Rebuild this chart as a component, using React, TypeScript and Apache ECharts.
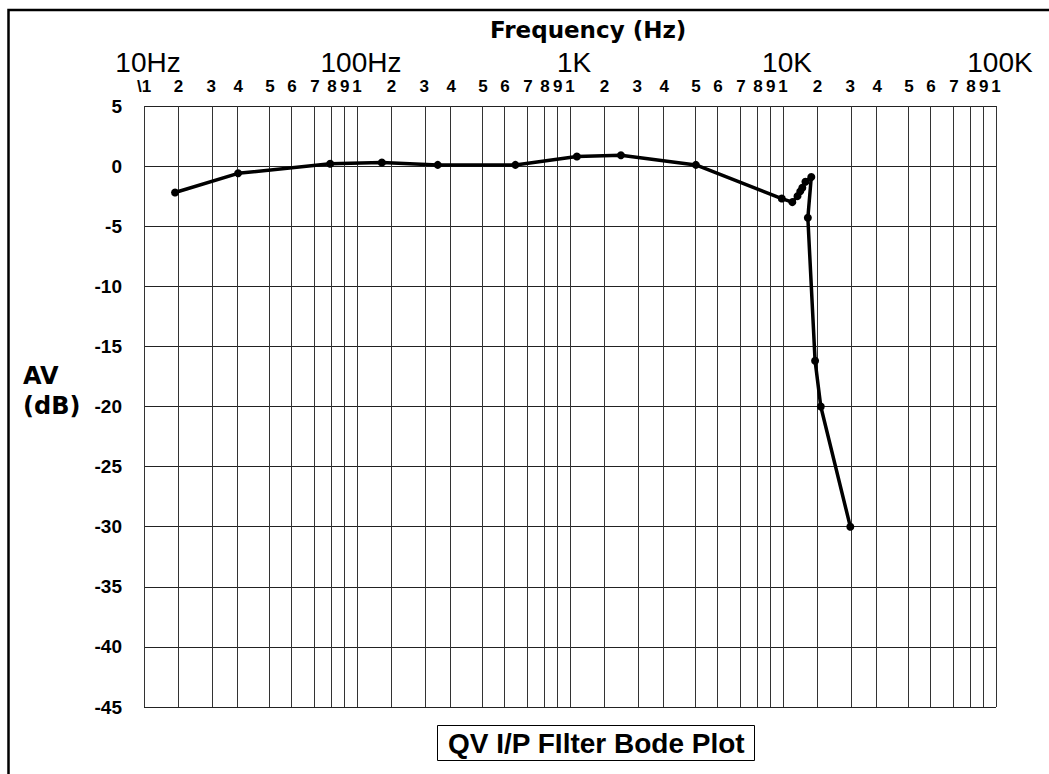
import React, { useEffect, useRef } from "react";
import * as echarts from "echarts";

// ---- axis text ----
const decadeLabels = ["10Hz", "100Hz", "1K", "10K", "100K"];
const minorDigits = ["1", "2", "3", "4", "5", "6", "7", "8", "9"];
// the chart paper's own (uneven) ruling of 1..10 inside one decade
const paperRuling = [0, 0.162, 0.316, 0.442, 0.591, 0.695, 0.803, 0.882, 0.943, 1];
const baseHz = 10;
const decades = 4;

// ---- measured response ----
const frequencyHz = [19, 40, 79, 172, 350, 645, 1200, 2500, 5000, 9900, 12700, 14200, 15000, 15600, 16500, 18200, 17200, 19300, 21000, 30000];
const gainDb = [-2.2, -0.6, 0.2, 0.3, 0.1, 0.1, 0.8, 0.9, 0.1, -2.7, -3.0, -2.5, -2.1, -1.8, -1.3, -0.9, -4.3, -16.2, -20.0, -30.0];

// ---- y axis ----
const yMin = -45;
const yMax = 5;
const yStep = 5;

// frequency -> position on the chart paper (in decades from baseHz)
function paperPos(f: number): number {
  let d = Math.floor(Math.log10(f / baseHz) + 1e-9);
  let m = f / (baseHz * Math.pow(10, d));
  if (m < 1) { d -= 1; m *= 10; }
  let k = Math.floor(m + 1e-9);
  if (k >= 10) k = 9;
  const a = paperRuling[k - 1];
  const b = paperRuling[k];
  return d + a + (m - k) * (b - a);
}

const gridValues: number[] = [];
const minorLabelEntries: { v: number; t: string }[] = [];
for (let d = 0; d < decades; d++) {
  for (let k = 0; k < 9; k++) {
    const v = d + paperRuling[k];
    gridValues.push(v);
    minorLabelEntries.push({ v, t: d === 0 && k === 0 ? "\\" + minorDigits[0] : minorDigits[k] });
  }
}
gridValues.push(decades);
minorLabelEntries.push({ v: decades, t: minorDigits[0] });
const decadeValues = decadeLabels.map((_, i) => i);

function lookup(entries: { v: number; t: string }[], v: number) {
  const e = entries.find((x) => Math.abs(x.v - v) < 1e-6);
  return e ? e.t : "";
}

export default function App() {
  const ref = useRef<HTMLDivElement>(null);
  useEffect(() => {
    if (!ref.current) return;
    const chart = echarts.init(ref.current, undefined, { renderer: "svg" });
    const boldNum = { fontFamily: "Liberation Sans", fontWeight: "bold" as const, color: "#000" };
    chart.setOption({
      animation: false,
      backgroundColor: "#fff",
      title: [
        {
          text: "Frequency (Hz)",
          left: 490,
          top: 18,
          padding: 0,
          textStyle: { fontFamily: "DejaVu Sans", fontWeight: "bold", fontSize: 23, color: "#000" },
        },
        {
          text: "QV I/P FIlter Bode Plot",
          left: 437,
          top: 725,
          padding: [3, 10, 3, 11],
          borderColor: "#000",
          borderWidth: 1,
          textStyle: { fontFamily: "Liberation Sans", fontWeight: "bold", fontSize: 28, lineHeight: 30, color: "#000" },
        },
      ],
      grid: { left: 144, right: 53, top: 106, bottom: 67, containLabel: false },
      xAxis: [
        {
          type: "value",
          min: 0,
          max: decades,
          axisLine: { show: false },
          axisTick: { show: false },
          axisLabel: { show: false },
          splitLine: { show: false },
        },
        {
          type: "value",
          position: "top",
          min: 0,
          max: decades,
          axisLine: { show: false },
          axisTick: { show: false },
          splitLine: { show: false },
          axisLabel: {
            ...boldNum,
            fontSize: 17,
            lineHeight: 17,
            margin: 11,
            customValues: minorLabelEntries.map((e) => e.v),
            formatter: (v: number) => lookup(minorLabelEntries, v),
          },
        },
        {
          type: "value",
          position: "top",
          min: 0,
          max: decades,
          axisLine: { show: false },
          axisTick: { show: false },
          splitLine: { show: false },
          axisLabel: {
            fontFamily: "Liberation Sans",
            fontSize: 28,
            lineHeight: 22,
            color: "#000",
            margin: 33,
            padding: [0, 0, 0, 8],
            customValues: decadeValues,
            formatter: (v: number) => decadeLabels[Math.round(v)] ?? "",
          },
        },
      ],
      yAxis: {
        type: "value",
        min: yMin,
        max: yMax,
        interval: yStep,
        axisLine: { show: false },
        axisTick: { show: false },
        axisLabel: { ...boldNum, fontSize: 19, margin: 22 },
        splitLine: { lineStyle: { color: "#222", width: 1 } },
      },
      graphic: [
        {
          type: "polyline",
          shape: { points: [[8.5, 774], [8.5, 10], [1049, 10]] },
          style: { stroke: "#000", lineWidth: 2.5, fill: "none" },
          silent: true,
        },
        {
          type: "text",
          left: 23,
          top: 364,
          style: { text: "AV", font: "bold 24px 'DejaVu Sans'", fill: "#000" },
        },
        {
          type: "text",
          left: 23,
          top: 394,
          style: { text: "(dB)", font: "bold 24px 'DejaVu Sans'", fill: "#000" },
        },
      ],
      series: [
        {
          type: "line",
          data: [],
          silent: true,
          z: 1,
          markLine: {
            silent: true,
            symbol: ["none", "none"],
            label: { show: false },
            lineStyle: { color: "#333", width: 1, type: "solid" },
            emphasis: { disabled: true },
            data: gridValues.map((v) => ({ xAxis: v })),
          },
        },
        {
          type: "line",
          z: 5,
          data: frequencyHz.map((f, i) => [paperPos(f), gainDb[i]]),
          symbol: "circle",
          symbolSize: 8,
          lineStyle: { color: "#000", width: 3.5 },
          itemStyle: { color: "#000" },
        },
      ],
    });
    return () => chart.dispose();
  }, []);
  return <div ref={ref} style={{ position: "fixed", left: 0, top: 0, width: 1049, height: 774 }} />;
}
